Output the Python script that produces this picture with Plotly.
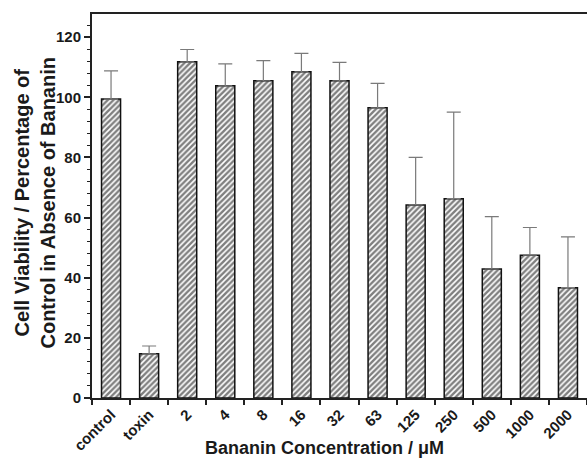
import plotly.graph_objects as go

categories = ["control", "toxin", "2", "4", "8", "16", "32", "63", "125", "250", "500", "1000", "2000"]
viability = [99.4, 14.7, 111.8, 103.8, 105.5, 108.5, 105.5, 96.5, 64.2, 66.3, 42.9, 47.5, 36.7]
error_up = [9.4, 2.6, 4.1, 7.3, 6.7, 6.1, 6.1, 8.1, 15.8, 28.8, 17.4, 9.2, 16.9]

FONT = "Liberation Sans, Arial, sans-serif"
AX = "#222222"
TXT = "#1a1a1a"

fig = go.Figure()
fig.add_trace(go.Bar(
    x=categories, y=viability, width=0.5,
    marker=dict(
        color="white",
        line=dict(color="#111111", width=1.5),
        pattern=dict(shape="/", fgcolor="#000000", bgcolor="white", size=4, solidity=0.6),
    ),
    error_y=dict(type="data", symmetric=False, array=error_up,
                 arrayminus=[0] * len(error_up), color="#7a7a7a", thickness=1.2, width=7),
))

fig.update_layout(
    width=587, height=458,
    margin=dict(l=92, r=0, t=14, b=60),
    plot_bgcolor="white", paper_bgcolor="white",
    showlegend=False,
    font=dict(family=FONT, color=TXT),
    xaxis=dict(
        type="category", range=[-0.5, 12.5],
        tickson="boundaries", ticks="outside", ticklen=5, tickwidth=1.5, tickcolor=AX,
        showline=True, linecolor=AX, linewidth=2, mirror=True,
        tickangle=-45, tickfont=dict(size=15, family=FONT, weight="bold", color=TXT),
        showgrid=False,
    ),
    yaxis=dict(
        range=[0, 127.7], dtick=20, tick0=0,
        ticks="outside", ticklen=6, tickwidth=1.5, tickcolor=AX,
        minor=dict(dtick=4, ticks="outside", ticklen=3, tickwidth=1.2, tickcolor=AX),
        showline=True, linecolor=AX, linewidth=2, mirror=False,
        tickfont=dict(size=15, family=FONT, weight="bold", color=TXT),
        showgrid=False, zeroline=False,
    ),
    annotations=[
        dict(text="Bananin Concentration / μM", xref="paper", yref="paper",
             x=0.469, y=-0.130, xanchor="center", yanchor="middle", showarrow=False,
             font=dict(size=18, family=FONT, weight="bold", color=TXT)),
        dict(text="Cell Viability / Percentage of<br>Control in Absence of Bananin",
             xref="paper", yref="paper", x=-0.116, y=0.508, textangle=-90,
             xanchor="center", yanchor="middle", showarrow=False,
             font=dict(size=20, family=FONT, weight="bold", color=TXT)),
    ],
)

fig.write_html("out.html")
